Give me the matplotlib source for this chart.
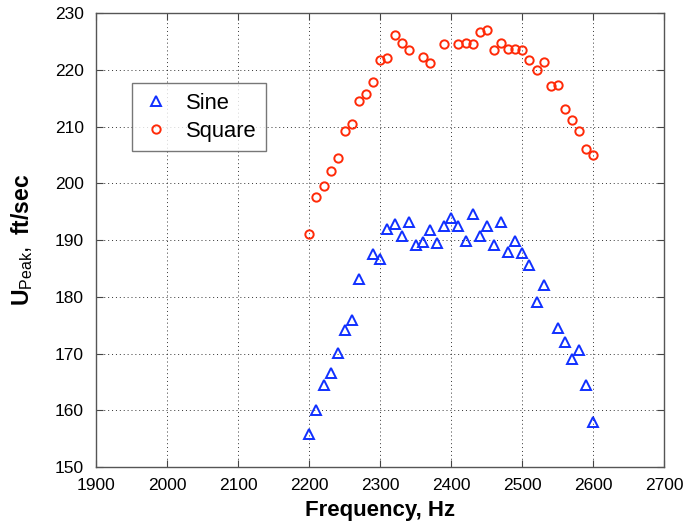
import numpy as np
import matplotlib.pyplot as plt

plt.rcParams['font.family'] = ['Liberation Sans', 'DejaVu Sans']
plt.rcParams['mathtext.fontset'] = 'custom'
plt.rcParams['mathtext.rm'] = 'Liberation Sans'
plt.rcParams['mathtext.bf'] = 'Liberation Sans:bold'

# peak velocity vs drive frequency, sine and square wave excitation
sine_freq = [2200, 2210, 2220, 2230, 2240, 2250, 2260, 2270, 2290, 2300,
             2310, 2320, 2330, 2340, 2350, 2360, 2370, 2380, 2390, 2400,
             2410, 2420, 2430, 2440, 2450, 2460, 2470, 2480, 2490, 2500,
             2510, 2520, 2530, 2550, 2560, 2570, 2580, 2590, 2600]
sine_upeak = [155.8, 160.1, 164.4, 166.5, 170.1, 174.1, 175.9, 183.1, 187.6, 186.6,
              191.9, 192.8, 190.7, 193.2, 189.2, 189.7, 191.8, 189.4, 192.4, 193.9,
              192.4, 189.8, 194.6, 190.8, 192.4, 189.1, 193.2, 187.9, 189.8, 187.8,
              185.6, 179.1, 182.1, 174.5, 172.1, 169.0, 170.7, 164.4, 158.0]

square_freq = [2200, 2210, 2220, 2230, 2240, 2250, 2260, 2270, 2280, 2290,
               2300, 2310, 2320, 2330, 2340, 2360, 2370, 2390, 2410, 2420,
               2430, 2440, 2450, 2460, 2470, 2480, 2490, 2500, 2510, 2520,
               2530, 2540, 2550, 2560, 2570, 2580, 2590, 2600]
square_upeak = [191.1, 197.5, 199.5, 202.1, 204.4, 209.2, 210.4, 214.5, 215.8, 217.8,
                221.8, 222.0, 226.2, 224.8, 223.5, 222.2, 221.2, 224.5, 224.6, 224.8,
                224.6, 226.7, 227.0, 223.5, 224.8, 223.7, 223.7, 223.4, 221.8, 219.9,
                221.3, 217.1, 217.4, 213.1, 211.1, 209.2, 206.1, 205.0]

fig = plt.figure(figsize=(6.95, 5.29), dpi=100)
ax = fig.add_axes([0.1385, 0.117, 0.8175, 0.8584])

ax.plot(sine_freq, sine_upeak, linestyle='none', marker='^', markersize=7,
        markerfacecolor='none', markeredgecolor='#1030ff', markeredgewidth=1.4,
        label='Sine')
ax.plot(square_freq, square_upeak, linestyle='none', marker='o', markersize=6,
        markerfacecolor='none', markeredgecolor='#ff2a08', markeredgewidth=1.4,
        label='Square')

ax.set_xlim(1900, 2700)
ax.set_ylim(150, 230)
ax.set_xticks(np.arange(1900, 2701, 100))
ax.set_yticks(np.arange(150, 231, 10))
ax.grid(True, color='black', linestyle=(0, (1, 3)), linewidth=0.7, alpha=0.8)
ax.tick_params(direction='in', top=True, right=True, labelsize=12.5,
               length=5, color='#444444')
ax.tick_params(axis='x', pad=8)
ax.tick_params(axis='y', pad=9)
for s in ax.spines.values():
    s.set_color('#555555')
    s.set_linewidth(1.0)

ax.set_xlabel('Frequency, Hz', fontsize=16, fontweight='bold', labelpad=5)
ax.set_ylabel(r'$\mathbf{U}_{\mathrm{Peak}},$ ft/sec', fontsize=16.5,
              fontweight='bold')
ax.yaxis.set_label_coords(-0.108, 0.5)

leg = ax.legend(loc='upper left', bbox_to_anchor=(0.0623, 0.845), fontsize=15.8,
                frameon=True, fancybox=False, edgecolor='#555555',
                handletextpad=0.72, borderpad=0.42, labelspacing=0.32,
                handlelength=1.35, borderaxespad=0)
leg.get_frame().set_linewidth(1.0)

fig.savefig('out.png', dpi=100)
